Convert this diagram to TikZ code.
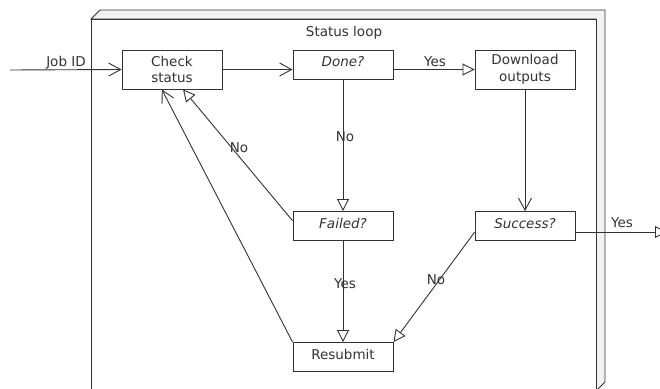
\documentclass[tikz,border=0pt]{standalone}
\usepackage{fontspec}
\setmainfont{DejaVu Sans}
\usetikzlibrary{arrows.meta}
\definecolor{ln}{HTML}{333333}
\definecolor{face}{HTML}{F2F2F2}
\begin{document}
\begin{tikzpicture}[x=1pt,y=-1pt,
  every node/.style={font=\fontsize{13.5}{16.6}\selectfont, text=ln},
  box/.style={draw=ln, line width=0.9pt, fill=white, minimum width=100pt, minimum height=29pt, inner sep=0pt, align=center},
  tall/.style={minimum height=39pt},
  single/.style={text height=10pt, text depth=5.4pt},
  dec/.style={font=\fontsize{13.5}{16.6}\selectfont\itshape},
  conn/.style={draw=ln, line width=0.9pt},
  barb/.style={conn, -{Straight Barb[length=12pt,width=13pt]}},
  tri/.style={conn, -{Triangle[open,length=12pt,width=12pt]}},
  lbl/.style={anchor=base, inner sep=0pt}]
\useasboundingbox (0,0) rectangle (660,388);
% frame
\draw[ln, line width=0.9pt, fill=face] (91,19) -- (100,10) -- (605,10) -- (605,382) -- (596,391) -- (596,19) -- cycle;
\draw[ln, line width=0.9pt, fill=white] (91,19) rectangle (596,391);
\node[lbl] (title) at (344,36) {Status loop};
% nodes
\node[box, tall] (check) at (172,69.5) {Check\\status};
\node[box, single, dec] (done) at (343,64.5) {Done?};
\node[box, tall] (download) at (525,69.5) {Download\\outputs};
\node[box, single, dec] (failed) at (343,226) {Failed?};
\node[box, single, dec] (success) at (525,226) {Success?};
\node[box, single] (resubmit) at (343,357) {Resubmit};
% connectors
\coordinate (in) at (10,70);
\coordinate (out) at (667,232);
\draw[barb] (in) -- (check.west);
\draw[barb] (check.east) -- (check.east -| done.west);
\draw[tri] (check.east -| done.east) -- (download.west);
\draw[tri] (done.south) -- (failed.north);
\draw[barb] (download.south) -- (success.north);
\draw[tri] (success.east |- out) -- (out);
\draw[tri] (success.-173) -- (resubmit.north east);
\draw[tri] (failed.174) -- (check.-61);
\draw[barb] (resubmit.north west) -- (check.-117);
\draw[tri] (failed.south) -- (resubmit.north);
% labels
\node[lbl] (l1) at (66,66.5) {Job ID};
\node[lbl] (l2) at (435,66.7) {Yes};
\node[lbl] (l3) at (345,141.7) {No};
\node[lbl] (l4) at (239,152.7) {No};
\node[lbl] (l5) at (345,288) {Yes};
\node[lbl] (l6) at (436,284) {No};
\node[lbl] (l7) at (622,227.3) {Yes};
\end{tikzpicture}
\end{document}
